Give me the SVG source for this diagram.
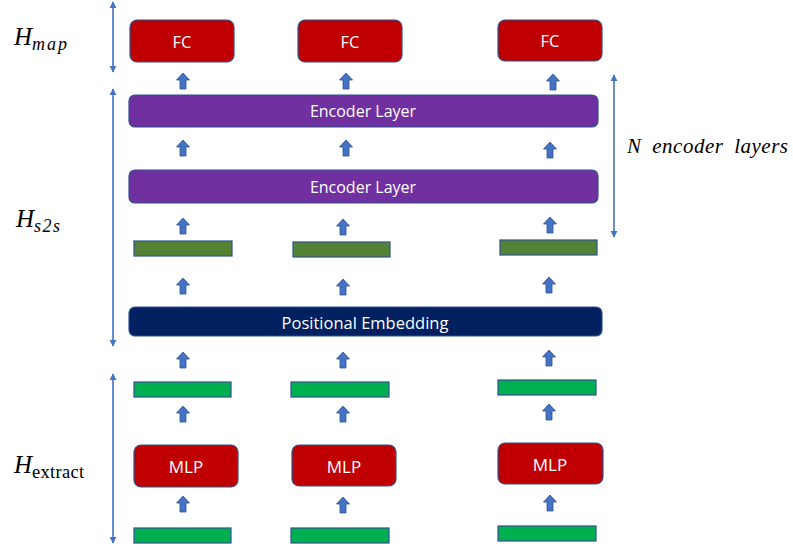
<svg xmlns="http://www.w3.org/2000/svg" width="793" height="550" viewBox="0 0 793 550">
<defs>
<style>
.box{stroke:#2F528F;stroke-width:1.2}
.red{fill:#C00000}
.pur{fill:#7030A0}
.navy{fill:#002060}
.dg{fill:#548235}
.lg{fill:#00B050}
.bt{font-family:"Open Sans","Noto Sans",sans-serif;fill:#fff;text-anchor:middle;dominant-baseline:central}
.dim{stroke:#4472C4;stroke-width:1.6;fill:none;marker-start:url(#ah);marker-end:url(#ah)}
.math{font-family:"Liberation Serif","DejaVu Serif",serif;font-style:italic;fill:#000}
.ua{fill:#4472C4;stroke:#2F528F;stroke-width:0.8}
</style>
<marker id="ah" viewBox="0 0 10 10" refX="9" refY="5" markerWidth="4.5" markerHeight="4.5" orient="auto-start-reverse" markerUnits="strokeWidth">
<path d="M0,0 L10,5 L0,10 Z" fill="#4472C4"/>
</marker>
<path id="up" d="M0,0 L6.5,7 L3,7 L3,16 L-3,16 L-3,7 L-6.5,7 Z"/>
</defs>

<g id="dims">
<line class="dim" x1="113" y1="72" x2="113" y2="2"/>
<line class="dim" x1="113" y1="346" x2="113" y2="89"/>
<line class="dim" x1="113" y1="543" x2="113" y2="374"/>
<line class="dim" x1="614" y1="237" x2="614" y2="75"/>
</g>

<g id="labels">
<text class="math" x="14" y="45" font-size="25">H<tspan font-size="18" dy="5" letter-spacing="2">map</tspan></text>
<text class="math" x="16" y="227" font-size="25">H<tspan font-size="18" dy="5" letter-spacing="1.5">s2s</tspan></text>
<text class="math" x="14" y="473" font-size="25">H<tspan font-size="18.5" dy="5" font-style="normal" letter-spacing="0.3">extract</tspan></text>
<text class="math" x="627" y="153" font-size="21" letter-spacing="0.5">N <tspan dx="5">encoder</tspan> <tspan dx="5">layers</tspan></text>
</g>

<g id="fc1"><rect class="box red" x="130" y="20" width="104" height="42" rx="7"/><text class="bt" x="182" y="41" font-size="16.5">FC</text></g>
<g id="fc2"><rect class="box red" x="298" y="20" width="104" height="42" rx="7"/><text class="bt" x="350" y="41" font-size="16.5">FC</text></g>
<g id="fc3"><rect class="box red" x="498" y="20" width="104" height="41" rx="7"/><text class="bt" x="550" y="40" font-size="16.5">FC</text></g>

<g id="enc1"><rect class="box pur" x="129" y="95" width="469" height="32" rx="6"/><text class="bt" x="363" y="111" font-size="16">Encoder Layer</text></g>
<g id="enc2"><rect class="box pur" x="129" y="170" width="469" height="33" rx="6"/><text class="bt" x="363" y="187" font-size="16">Encoder Layer</text></g>

<g id="dg1"><rect class="box dg" x="134" y="241" width="98" height="15"/></g>
<g id="dg2"><rect class="box dg" x="293" y="242" width="97" height="15"/></g>
<g id="dg3"><rect class="box dg" x="500" y="240" width="97" height="15"/></g>

<g id="pos"><rect class="box navy" x="129" y="307" width="473" height="29" rx="6"/><text class="bt" x="365" y="322" font-size="16.5">Positional Embedding</text></g>

<g id="g1"><rect class="box lg" x="134" y="382" width="97" height="15"/></g>
<g id="g2"><rect class="box lg" x="291" y="382" width="98" height="15"/></g>
<g id="g3"><rect class="box lg" x="498" y="380" width="98" height="15"/></g>

<g id="mlp1"><rect class="box red" x="134" y="445" width="104" height="42" rx="7"/><text class="bt" x="186" y="466" font-size="17">MLP</text></g>
<g id="mlp2"><rect class="box red" x="292" y="445" width="104" height="41" rx="7"/><text class="bt" x="344" y="466" font-size="17">MLP</text></g>
<g id="mlp3"><rect class="box red" x="498" y="443" width="105" height="41" rx="7"/><text class="bt" x="550" y="464" font-size="17">MLP</text></g>

<g id="in1"><rect class="box lg" x="134" y="528" width="97" height="15"/></g>
<g id="in2"><rect class="box lg" x="291" y="528" width="98" height="15"/></g>
<g id="in3"><rect class="box lg" x="498" y="526" width="98" height="15"/></g>

<g id="connectors" class="ua">
<use href="#up" x="183" y="73"/><use href="#up" x="346" y="73"/><use href="#up" x="553" y="74"/>
<use href="#up" x="183" y="140"/><use href="#up" x="346" y="140"/><use href="#up" x="550" y="142"/>
<use href="#up" x="183" y="218"/><use href="#up" x="343" y="219"/><use href="#up" x="550" y="217"/>
<use href="#up" x="183" y="278"/><use href="#up" x="343" y="279"/><use href="#up" x="549" y="277"/>
<use href="#up" x="183" y="352"/><use href="#up" x="343" y="352"/><use href="#up" x="549" y="350"/>
<use href="#up" x="183" y="406"/><use href="#up" x="343" y="406"/><use href="#up" x="549" y="404"/>
<use href="#up" x="183" y="496"/><use href="#up" x="343" y="497"/><use href="#up" x="550" y="495"/>
</g>
</svg>
